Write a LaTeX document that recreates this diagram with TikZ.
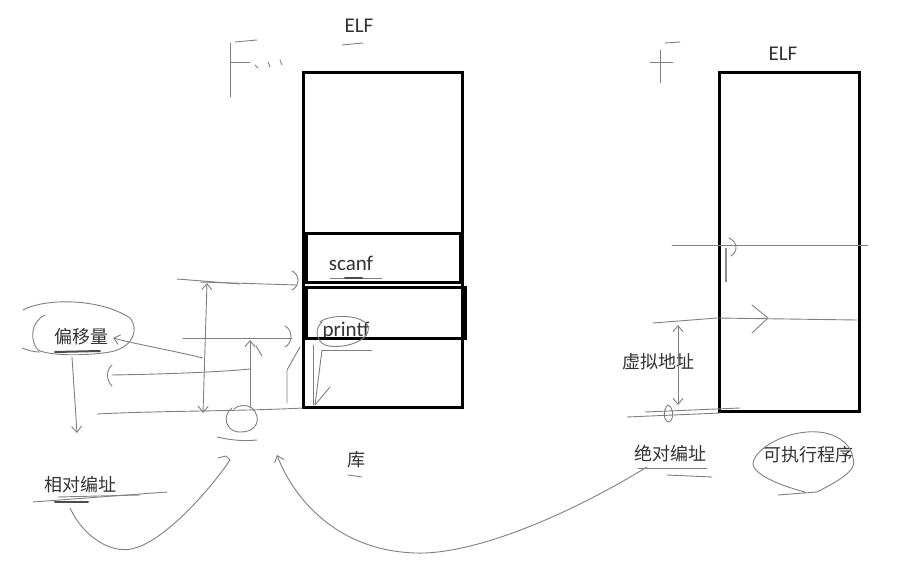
\documentclass[tikz,border=0pt]{standalone}
\usepackage{fontspec}
\setmainfont{Carlito}
\newfontfamily\cjk{Noto Sans CJK SC}
\usetikzlibrary{arrows.meta}
\begin{document}
\begin{tikzpicture}[x=1pt,y=-1pt,
 box/.style={draw=black, line width=3pt},
 pen/.style={draw=black!50, line width=0.9pt, line cap=round, line join=round},
 dark/.style={draw=black!70, line width=2pt, line cap=round},
 lbl/.style={inner sep=0, text=black!80, font=\fontsize{21}{25}\selectfont},
 cn/.style={inner sep=0, text=black!80, font=\cjk\fontsize{18}{22}\selectfont},
 tip/.style={-{Straight Barb[length=6pt,width=10pt]}},
 tipb/.style={{Straight Barb[length=6pt,width=10pt]}-{Straight Barb[length=6pt,width=10pt]}},
]
\useasboundingbox (0,0) rectangle (903,573);
\fill[white] (0,0) rectangle (903,573);

% ---------- texts ----------
\node[lbl] (elfL) at (359,26) {ELF};
\node[lbl] (elfR) at (783,54) {ELF};
\node[lbl] (scanf) at (351,263) {scanf};
\node[lbl] (printf) at (346,331) {printf};
\node[cn] (offset) at (81,337) {偏移量};
\node[cn] (rel) at (80,485) {相对编址};
\node[cn] (lib) at (356,460) {库};
\node[cn] (abs) at (670,454) {绝对编址};
\node[cn] (exe) at (808,455) {可执行程序};
\node[cn] (virt) at (658,362) {虚拟地址};

% ---------- left ELF ----------
\draw[box] (303,72) rectangle (462,407);
\draw[box] (306,233) rectangle (460,282);
\draw[box] (306,287) rectangle (465,338);

% ---------- right ELF ----------
\draw[box] (719,72) rectangle (859,411);

% ---------- scribbles top ----------
\draw[pen] (230,43) -- (230,97);
\draw[pen] (235,42) -- (257,40);
\draw[pen] (230,62) -- (250,62);
\draw[pen] (255,65) -- (258,68);
\draw[pen] (268,62) -- (270,67);
\draw[pen] (280,60) -- (282,65);
\draw[pen] (342,45) -- (363,43);
\draw[pen] (660,50) -- (660,83);
\draw[pen] (650,62) -- (673,62);
\draw[pen] (665,43) -- (680,42);

% ---------- underlines ----------
\draw[pen] (330,278) -- (382,278);
\draw[dark] (345,278) -- (362,278);
\draw[pen] (322,350) -- (372,350);
\draw[pen] (320,322) .. controls (330,314) and (362,314) .. (368,326) .. controls (372,342) and (340,350) .. (325,345) .. controls (315,340) and (315,328) .. (322,322);
\draw[pen] (348,475) -- (362,477);

% ---------- printf arrows ----------
\draw[pen] (313,345) -- (313,405);
\draw[pen] (322,350) -- (315,405);
\draw[pen] (330,387) -- (315,405);
\draw[pen] (287,403) -- (287,370) -- (300,347);

% ---------- left side arrows ----------
\draw[pen] (177,279) -- (240,284);
\draw[pen] (200,282) -- (297,285);
\draw[pen] (292,271) .. controls (300,275) and (300,286) .. (292,290);
\draw[pen,tipb] (203,413) -- (207,283);
\draw[pen] (183,338) -- (292,338);
\draw[pen] (285,326) .. controls (293,330) and (293,343) .. (285,347);
\draw[pen,tip] (250,408) -- (250,340);
\draw[pen] (256,346) -- (262,356);
\draw[pen,tip] (203,358) .. controls (170,350) and (140,345) .. (113,338);
\draw[pen] (112,375) .. controls (170,374) and (220,372) .. (250,369);
\draw[pen] (112,365) .. controls (106,370) and (106,380) .. (112,386);
\draw[pen] (97,414) .. controls (150,411) and (250,411) .. (303,408);
\draw[pen,tip] (72,357) -- (77,433);
% offset scribble
\draw[pen] (23,310) .. controls (45,298) and (100,298) .. (130,318) .. controls (140,330) and (132,348) .. (110,352) .. controls (85,356) and (50,356) .. (38,350) .. controls (30,342) and (30,322) .. (45,315);
\draw[pen] (22,348) .. controls (28,350) and (32,352) .. (40,352);
\draw[dark] (55,352) -- (100,351);
% small loop under left
\draw[pen] (232,408) .. controls (222,415) and (225,432) .. (240,432) .. controls (258,432) and (262,418) .. (252,408) .. controls (246,404) and (238,405) .. (234,409);
\draw[pen] (217,437) .. controls (235,441) and (245,441) .. (257,440);

% ---------- bottom left curve ----------
\draw[pen] (33,502) -- (167,492);
\draw[pen] (58,497) -- (140,495);
\draw[dark] (55,502) -- (88,502);
\draw[pen] (70,508) .. controls (85,540) and (115,555) .. (135,548) .. controls (165,540) and (210,490) .. (230,460);
\draw[pen] (230,460) -- (226,456) -- (218,458);

% ---------- big curve ----------
\draw[pen,tip] (647,467) .. controls (560,520) and (470,555) .. (415,553) .. controls (330,550) and (290,490) .. (277,455);

% ---------- right side lines ----------
\draw[pen] (672,245) -- (868,245);
\draw[pen] (729,238) .. controls (738,242) and (738,252) .. (731,256);
\draw[draw=black!45, line width=2pt] (726,248) -- (726,282);
\draw[pen] (653,323) -- (717,318) -- (857,320);
\draw[pen] (752,305) -- (768,318) -- (752,333);
\draw[pen,tipb] (678,405) -- (678,325);
\draw[pen] (668,405) .. controls (662,410) and (664,422) .. (669,422) .. controls (674,420) and (674,408) .. (668,405);
\draw[pen] (627,417) -- (720,413);
\draw[pen] (645,412) -- (740,408);

% ---------- right bottom underlines ----------
\draw[pen] (638,468) -- (707,468);
\draw[pen] (667,475) -- (712,477);
\draw[pen] (778,495) -- (817,492) .. controls (840,480) and (858,470) .. (853,458) .. controls (850,440) and (830,430) .. (807,432) .. controls (780,434) and (755,450) .. (753,463) .. controls (752,475) and (785,487) .. (805,492);
\end{tikzpicture}
\end{document}
